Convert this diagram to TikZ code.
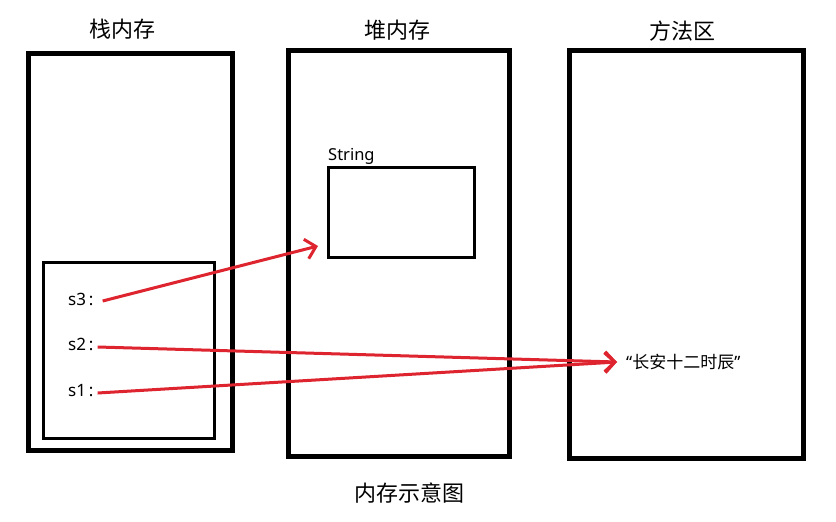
\documentclass[tikz,border=0pt]{standalone}
\usepackage{fontspec}
\setmainfont{Noto Sans}
\newfontfamily\cjk{Noto Sans CJK SC}
\usetikzlibrary{arrows.meta}
\definecolor{redline}{RGB}{222,36,46}
\begin{document}
\begin{tikzpicture}[x=1pt,y=-1pt,
  bigbox/.style={draw, line width=5pt, inner sep=0pt, outer sep=0pt},
  smallbox/.style={draw, line width=3pt, inner sep=0pt, outer sep=0pt},
  title/.style={font=\cjk\fontsize{22}{26}\selectfont, inner sep=0pt},
  var/.style={font=\fontsize{17}{20}\selectfont, inner sep=0pt, anchor=base west},
  ref/.style={draw=redline, line width=3pt, -{Straight Barb[length=10pt,width=20pt]}}]
\useasboundingbox[fill=white] (0,0) rectangle (836,522);
% boxes
\node[bigbox, minimum width=204pt, minimum height=397pt] (stack) at (130,251.5) {};
\node[smallbox, minimum width=171pt, minimum height=176pt] (frame) at (128.5,350) {};
\node[bigbox, minimum width=221pt, minimum height=406pt] (heap) at (398.5,253) {};
\node[bigbox, minimum width=234pt, minimum height=408pt] (method) at (686,254) {};
\node[smallbox, minimum width=146pt, minimum height=90pt] (strbox) at (401,212) {};
% titles
\node[title] (t1) at (122,29) {栈内存};
\node[title] (t2) at (397,30) {堆内存};
\node[title] (t3) at (682,31) {方法区};
\node[title] (cap) at (409,493) {内存示意图};
% labels
\node[var, font=\fontsize{16.5}{19}\selectfont] (strlbl) at (328,160) {String};
\node[var] (s3) at (68,305) {s3\,:};
\node[var] (s2) at (68,350) {s2\,:};
\node[var] (s1) at (68,396) {s1\,:};
\node[anchor=west, inner sep=0pt, font=\fontsize{17}{20}\selectfont] (cstr) at (626,362) {“{\cjk 长安十二时辰}”};
% references
\draw[ref] ([shift={(9,-4)}]s3.base east) -- ([shift={(-10,-11)}]strbox.south west);
\draw[ref] ([shift={(4,-3)}]s2.base east) -- ([xshift=-9pt]cstr.west);
\draw[ref] ([shift={(4,-3)}]s1.base east) -- ([xshift=-9pt]cstr.west);
\end{tikzpicture}
\end{document}
